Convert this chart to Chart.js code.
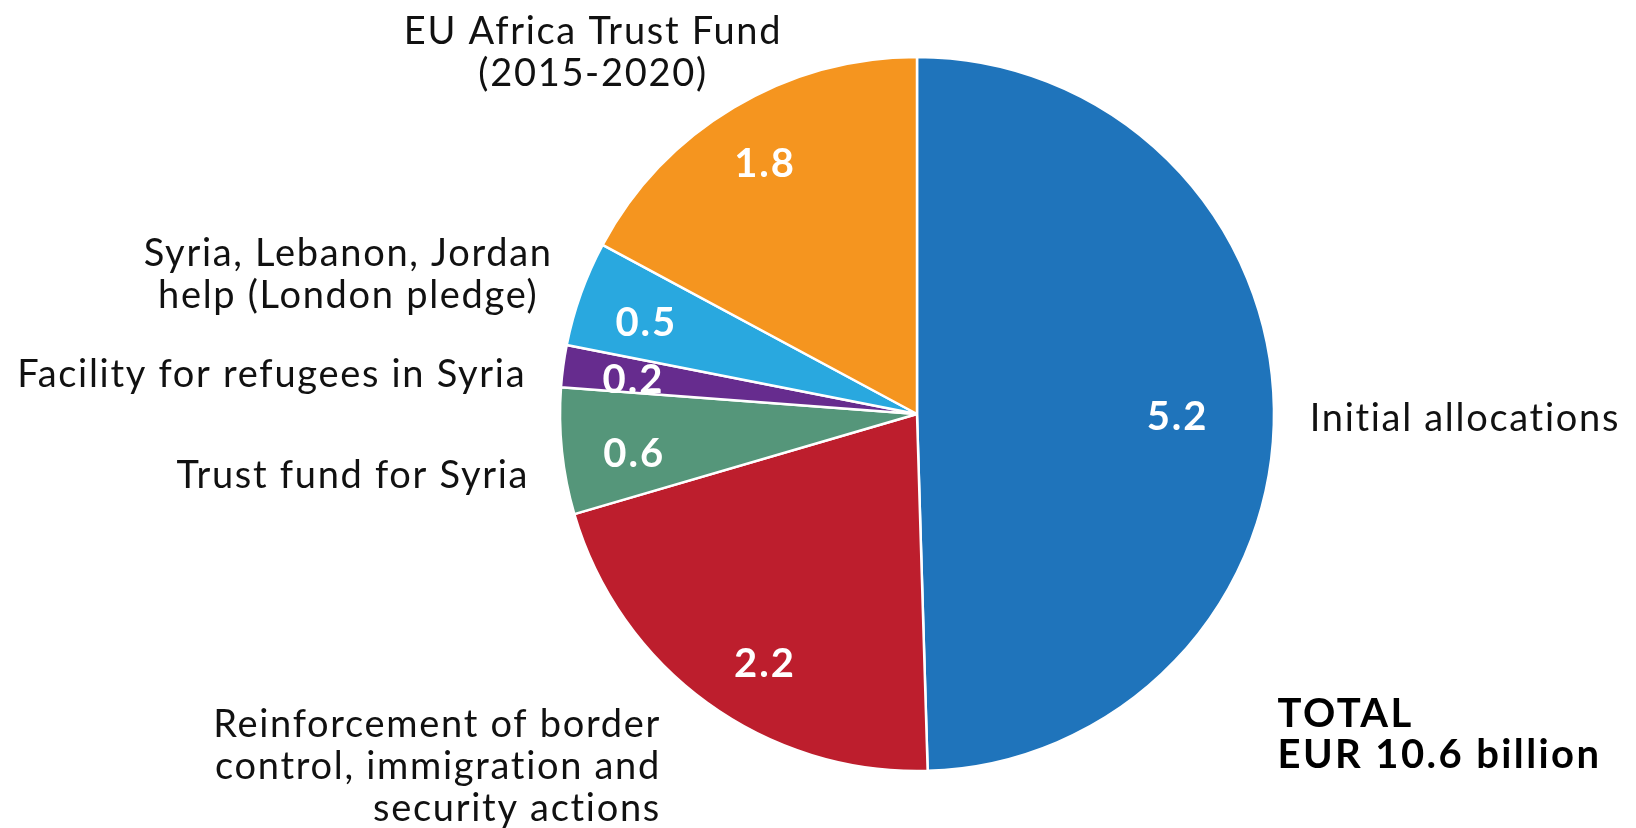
<!DOCTYPE html>
<html>
<head>
<meta charset="utf-8">
<title>EU funding breakdown</title>
<script src="https://cdn.jsdelivr.net/npm/chart.js@4.4.1/dist/chart.umd.min.js"></script>
<style>
  html, body { margin: 0; padding: 0; background: #fff; }
  #wrap { width: 1636px; height: 828px; }
</style>
</head>
<body>
<div id="wrap"><canvas id="pieChart" width="1636" height="828"></canvas></div>
<script>
// Datos: miles de millones de EUR, en el orden de las agujas del reloj desde arriba
const categories = [
  ['Initial allocations'],
  ['Reinforcement of border', 'control, immigration and', 'security actions'],
  ['Trust fund for Syria'],
  ['Facility for refugees in Syria'],
  ['Syria, Lebanon, Jordan', 'help (London pledge)'],
  ['EU Africa Trust Fund', '(2015-2020)']
];
const values = [5.2, 2.2, 0.6, 0.2, 0.5, 1.8];
const colors = ['#1f74bb', '#bd1e2d', '#55967a', '#662c8e', '#29a8df', '#f5951f'];
const totalLines = ['TOTAL', 'EUR 10.6 billion'];

const FONT = 'Lato, "Open Sans", sans-serif';

// Posición de los nombres respecto a cada sector (radio relativo, giro en grados, alineación)
const labelPlacement = [
  { r: 1.10, shift: 1.6, align: 'left' },
  { r: 1.22, shift: 0,   align: 'right' },
  { r: 1.10, shift: -3,  align: 'right' },
  { r: 1.10, shift: -2,  align: 'right' },
  { r: 1.64, shift: -6,  align: 'center' },
  { r: 1.36, shift: -11, align: 'center' }
];
// Posición de los valores dentro de cada sector
const valuePlacement = [
  { r: 0.73, shift: 1.6 },
  { r: 0.82, shift: -4.7 },
  { r: 0.80, shift: -2 },
  { r: 0.80, shift: -0.9 },
  { r: 0.80, shift: -1.1 },
  { r: 0.82, shift: -0.4 }
];

function polar(p, angle, factor) {
  const r = p.outerRadius * factor;
  return { x: p.x + Math.cos(angle) * r, y: p.y + Math.sin(angle) * r };
}

// Plugin para dibujar los valores dentro y los nombres fuera del pastel
const pieLabels = {
  id: 'pieLabels',
  afterDatasetsDraw(chart) {
    const ctx = chart.ctx;
    const meta = chart.getDatasetMeta(0);
    const deg = Math.PI / 180;
    ctx.save();
    ctx.textBaseline = 'middle';
    meta.data.forEach((arc, i) => {
      const p = arc.getProps(['x', 'y', 'startAngle', 'endAngle', 'outerRadius'], true);
      const mid = (p.startAngle + p.endAngle) / 2;

      // valor en blanco
      const vp = valuePlacement[i];
      const v = polar(p, mid + vp.shift * deg, vp.r);
      ctx.font = 'bold 40px ' + FONT;
      ctx.letterSpacing = '2px';
      ctx.fillStyle = '#ffffff';
      ctx.textAlign = 'center';
      ctx.fillText(values[i].toFixed(1), v.x, v.y);

      // nombre de la categoría
      const pl = labelPlacement[i];
      const l = polar(p, mid + pl.shift * deg, pl.r);
      const lines = categories[i];
      const lh = 42;
      ctx.font = '38px ' + FONT;
      ctx.letterSpacing = '1.7px';
      ctx.fillStyle = '#111111';
      ctx.textAlign = pl.align;
      lines.forEach((line, j) => {
        ctx.fillText(line, l.x, l.y + (j - (lines.length - 1) / 2) * lh);
      });
    });

    // total abajo a la derecha
    const c = meta.data[0].getProps(['x', 'y', 'outerRadius'], true);
    ctx.font = 'bold 40px ' + FONT;
    ctx.letterSpacing = '2.4px';
    ctx.fillStyle = '#000000';
    ctx.textAlign = 'left';
    totalLines.forEach((line, j) => {
      ctx.fillText(line, c.x + c.outerRadius * 1.01, c.y + c.outerRadius * 0.84 + j * 41);
    });
    ctx.restore();
  }
};

const ctxPie = document.getElementById('pieChart').getContext('2d');
new Chart(ctxPie, {
  type: 'pie',
  data: {
    labels: categories.map(l => l.join(' ')),
    datasets: [{
      data: values,
      backgroundColor: colors,
      borderColor: '#ffffff',
      borderWidth: 2.5
    }]
  },
  options: {
    responsive: false,
    animation: false,
    radius: 357,
    layout: { padding: { left: 198, right: 0, top: 0, bottom: 0 } },
    plugins: {
      legend: { display: false },
      tooltip: { enabled: false }
    }
  },
  plugins: [pieLabels]
});
</script>
</body>
</html>
